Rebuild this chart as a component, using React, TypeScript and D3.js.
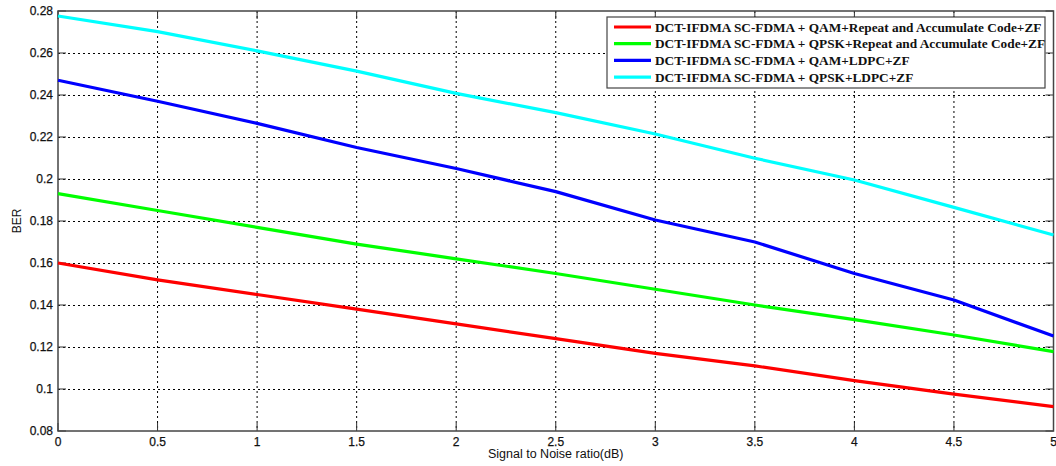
import React, { useRef, useEffect } from 'react';
import * as d3 from 'd3';

// SNR points (dB)
const snr = [0, 0.5, 1, 1.5, 2, 2.5, 3, 3.5, 4, 4.5, 5];

// BER values
const qamRA = [0.160, 0.152, 0.145, 0.138, 0.131, 0.124, 0.117, 0.111, 0.104, 0.0976, 0.0916];
const qpskRA = [0.193, 0.185, 0.177, 0.169, 0.162, 0.155, 0.1475, 0.140, 0.133, 0.1257, 0.1178];
const qamLDPC = [0.247, 0.237, 0.2265, 0.215, 0.205, 0.194, 0.1805, 0.170, 0.155, 0.1424, 0.1252];
const qpskLDPC = [0.2776, 0.2702, 0.261, 0.2514, 0.2408, 0.2316, 0.2214, 0.2099, 0.1995, 0.1865, 0.1733];

const seriesNames = [
  'DCT-IFDMA SC-FDMA + QAM+Repeat and Accumulate Code+ZF',
  'DCT-IFDMA SC-FDMA + QPSK+Repeat and Accumulate Code+ZF',
  'DCT-IFDMA SC-FDMA + QAM+LDPC+ZF',
  'DCT-IFDMA SC-FDMA + QPSK+LDPC+ZF',
];
const seriesValues = [qamRA, qpskRA, qamLDPC, qpskLDPC];
const seriesColors = ['#ff0000', '#00ff00', '#0000ff', '#00ffff'];

const xTicks = [0, 0.5, 1, 1.5, 2, 2.5, 3, 3.5, 4, 4.5, 5];
const yTicks = [0.08, 0.1, 0.12, 0.14, 0.16, 0.18, 0.2, 0.22, 0.24, 0.26, 0.28];

const W = 1056;
const H = 466;

export default function App() {
  const svgRef = useRef<SVGSVGElement | null>(null);

  useEffect(() => {
    if (!svgRef.current) return;
    const svg = d3.select(svgRef.current);
    svg.selectAll('*').remove();

    const left = 58, right = 1053.5, top = 11, bottom = 431;
    const x = d3.scaleLinear().domain([0, 5]).range([left, right]);
    const y = d3.scaleLinear().domain([0.08, 0.28]).range([bottom, top]);

    svg.append('rect').attr('width', W).attr('height', H).attr('fill', '#fff');

    // --- grid ---
    const grid = svg.append('g');
    grid.selectAll('.vg')
      .data(xTicks.slice(1, -1))
      .enter()
      .append('line')
      .attr('x1', d => x(d)).attr('x2', d => x(d))
      .attr('y1', top).attr('y2', bottom)
      .attr('stroke', '#000')
      .attr('stroke-width', 1)
      .attr('stroke-dasharray', '2,3');
    grid.selectAll('.hg')
      .data(yTicks.slice(1, -1))
      .enter()
      .append('line')
      .attr('x1', left).attr('x2', right)
      .attr('y1', d => Math.round(y(d)) + 0.5).attr('y2', d => Math.round(y(d)) + 0.5)
      .attr('stroke', '#000')
      .attr('stroke-width', 1)
      .attr('stroke-dasharray', '2,3');

    // --- tick marks (inward, all four sides) ---
    const tl = 8;
    const ticks = svg.append('g').attr('stroke', '#333').attr('stroke-width', 1);
    xTicks.forEach(t => {
      ticks.append('line').attr('x1', x(t)).attr('x2', x(t)).attr('y1', bottom).attr('y2', bottom - tl);
      ticks.append('line').attr('x1', x(t)).attr('x2', x(t)).attr('y1', top).attr('y2', top + tl);
    });
    yTicks.forEach(t => {
      ticks.append('line').attr('x1', left).attr('x2', left + tl).attr('y1', y(t)).attr('y2', y(t));
      ticks.append('line').attr('x1', right).attr('x2', right - tl).attr('y1', y(t)).attr('y2', y(t));
    });

    // --- axes box ---
    svg.append('rect')
      .attr('x', left).attr('y', top)
      .attr('width', right - left).attr('height', bottom - top)
      .attr('fill', 'none')
      .attr('stroke', '#444')
      .attr('stroke-width', 1.5);

    // --- curves ---
    const line = d3.line<number>()
      .x((_, i) => x(snr[i]))
      .y(d => y(d));
    seriesValues.forEach((vals, i) => {
      svg.append('path')
        .datum(vals)
        .attr('fill', 'none')
        .attr('stroke', seriesColors[i])
        .attr('stroke-width', 3.2)
        .attr('stroke-linejoin', 'round')
        .attr('d', line);
    });

    // --- tick labels ---
    const font = 'Liberation Sans, Arial, sans-serif';
    svg.append('g').selectAll('text')
      .data(xTicks)
      .enter()
      .append('text')
      .attr('x', d => x(d))
      .attr('y', 446)
      .attr('text-anchor', 'middle')
      .attr('font-family', font)
      .attr('font-size', 12)
      .attr('fill', '#111')
      .attr('stroke', '#111')
      .attr('stroke-width', 0.25)
      .text(d => String(d));
    svg.append('g').selectAll('text')
      .data(yTicks)
      .enter()
      .append('text')
      .attr('x', left - 5)
      .attr('y', d => y(d) + 4)
      .attr('text-anchor', 'end')
      .attr('font-family', font)
      .attr('font-size', 12)
      .attr('fill', '#111')
      .attr('stroke', '#111')
      .attr('stroke-width', 0.25)
      .text(d => String(d));

    // --- axis titles ---
    svg.append('text')
      .attr('x', (left + right) / 2)
      .attr('y', 458)
      .attr('text-anchor', 'middle')
      .attr('font-family', font)
      .attr('font-size', 12.5)
      .attr('fill', '#111')
      .text('Signal to Noise ratio(dB)');
    svg.append('text')
      .attr('transform', `translate(21, ${(top + bottom) / 2}) rotate(-90)`)
      .attr('text-anchor', 'middle')
      .attr('font-family', font)
      .attr('font-size', 12)
      .attr('fill', '#111')
      .text('BER');

    // --- legend ---
    const lg = svg.append('g');
    lg.append('rect')
      .attr('x', 607).attr('y', 17)
      .attr('width', 438).attr('height', 71)
      .attr('fill', '#fff')
      .attr('stroke', '#444')
      .attr('stroke-width', 1.2);
    seriesNames.forEach((name, i) => {
      const ry = 27 + i * 16.7;
      lg.append('line')
        .attr('x1', 614).attr('x2', 651)
        .attr('y1', ry).attr('y2', ry)
        .attr('stroke', seriesColors[i])
        .attr('stroke-width', 3.2);
      lg.append('text')
        .attr('x', 655)
        .attr('y', ry + 4.5)
        .attr('font-family', 'Liberation Serif, Times New Roman, serif')
        .attr('font-weight', 'bold')
        .attr('font-size', 13.3)
        .attr('fill', '#111')
        .text(name);
    });
  }, []);

  return (
    <svg
      ref={svgRef}
      width={W}
      height={H}
      style={{ position: 'absolute', left: 0, top: 0, display: 'block' }}
    />
  );
}
